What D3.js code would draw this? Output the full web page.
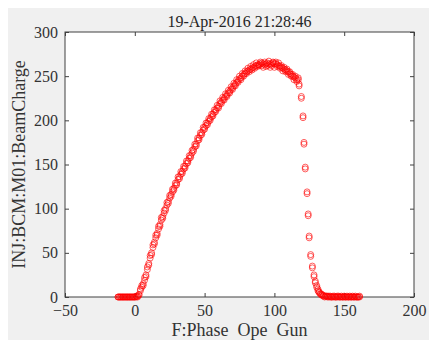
<!DOCTYPE html>
<html>
<head>
<meta charset="utf-8">
<script src="https://cdn.jsdelivr.net/npm/d3@7"></script>
<style>
  body { margin: 0; background: #fff; }
</style>
</head>
<body>
<div id="chart"></div>
<script>
// scan of gun phase vs measured beam charge (two readings per setting)
const title = '19-Apr-2016 21:28:46';
const xLabelText = 'F:Phase\u00a0\u00a0Ope\u00a0\u00a0Gun';
const yLabelText = 'INJ:BCM:M01:BeamCharge';
const xTicks = [-50, 0, 50, 100, 150, 200];
const yTicks = [0, 50, 100, 150, 200, 250, 300];

// phase settings (deg)
const phase = [
  -12, -11, -10, -9, -8, -7, -6, -5, -4, -3, -2, -1, 0, 1, 2,
  3, 4, 5, 6, 7, 8, 9, 10, 11, 12, 13, 14, 15, 16, 17, 18, 19, 20,
  21, 22, 23, 24, 25, 26, 27, 28, 29, 30, 31, 32, 33, 34, 35, 36, 37, 38, 39, 40,
  41, 42, 43, 44, 45, 46, 47, 48, 49, 50, 51, 52, 53, 54, 55, 56, 57, 58, 59, 60,
  61, 62, 63, 64, 65, 66, 67, 68, 69, 70, 71, 72, 73, 74, 75, 76, 77, 78, 79, 80,
  81, 82, 83, 84, 85, 86, 87, 88, 89, 90, 91, 92, 93, 94, 95, 96, 97, 98, 99, 100,
  101, 102, 103, 104, 105, 106, 107, 108, 109, 110, 111, 112, 113, 114, 115, 116,
  117.1, 117.7, 119.3, 120.5, 121.2, 122.1, 123.4, 124.2, 124.9, 126, 127.2, 128.4, 129.3, 130.3,
  131.2, 132, 133, 134, 135,
  136, 137, 138, 139, 140, 141, 142, 143, 144, 145, 146, 147, 148, 149, 150,
  151, 152, 153, 154, 155, 156, 157, 158, 159, 160, 161
];
// first reading
const charge = [
  0, 0, 0, 0, 0, 0, 0, 0, 0, 0, 0, 0, 0, 0, 1,
  3, 7, 11, 15, 19, 25, 31, 38, 44, 50, 56, 62, 67, 72, 77, 82, 87, 91,
  95, 100, 104, 108, 112, 116, 119, 123, 126, 129, 133, 136, 139, 142, 145, 148, 151, 154, 157, 160,
  163, 167, 170, 173, 177, 180, 183, 186, 189, 192, 194, 197, 199, 202, 204, 207, 209, 212, 214, 216,
  219, 221, 223, 225, 227, 229, 231, 233, 235, 237, 239, 241, 243, 245, 247, 248, 250, 252, 253, 255,
  256, 257, 258, 259, 260, 261, 262, 263, 263, 264, 265, 264, 263, 264, 265, 264, 263, 264, 265, 264,
  264, 263, 262, 261, 260, 259, 258, 257, 256, 255, 253, 252, 250, 249, 248, 246,
  246, 239, 225, 203, 173, 145, 117, 92, 67, 46, 33, 23, 16, 11,
  7, 5, 3, 2, 1,
  1, 1, 1, 0, 1, 0, 1, 0, 0, 1, 0, 0, 1, 0, 0,
  0, 1, 0, 0, 0, 1, 0, 0, 0, 0, 0
];
// second reading
const charge2 = [
  0, 0, 0, 0, 0, 0, 0, 0, 0, 0, 0, 0, 0, 1, 0,
  2, 9, 13, 13, 22, 23, 34, 36, 47, 48, 59, 60, 70, 70, 80, 80, 90, 89,
  98, 98, 107, 106, 115, 114, 122, 121, 129, 127, 136, 134, 142, 140, 148, 146, 154, 152, 160, 158,
  166, 165, 173, 171, 180, 178, 186, 184, 192, 190, 197, 195, 202, 200, 207, 205, 212, 210, 217, 214,
  222, 219, 226, 223, 230, 227, 234, 231, 238, 235, 242, 239, 246, 243, 250, 246, 253, 250, 256, 253,
  259, 255, 261, 257, 263, 259, 265, 261, 262, 266, 262, 260, 266, 261, 262, 267, 260, 262, 266, 260,
  266, 261, 265, 259, 262, 256, 260, 255, 258, 252, 255, 250, 252, 246, 250, 244,
  248, 241, 227, 205, 175, 147, 119, 94, 69, 48, 35, 25, 18, 13,
  9, 6, 4, 3, 2,
  0, 1, 0, 1, 0, 0, 0, 1, 0, 0, 1, 0, 0, 0, 1,
  0, 0, 0, 1, 0, 0, 0, 1, 0, 0, 1
];

const W = 429, H = 340;
const margin = {top: 32, left: 65, right: 15, bottom: 43};
const font = '"Liberation Serif", "Times New Roman", "DejaVu Serif", serif';

const svg = d3.select('#chart').append('svg')
  .attr('width', W).attr('height', H);

// figure background
svg.append('rect').attr('x', 8).attr('y', 8)
  .attr('width', W - 8).attr('height', H - 8).attr('fill', '#f0f0f0');

const xScale = d3.scaleLinear().domain([-50, 200]).range([margin.left, W - margin.right]);
const yScale = d3.scaleLinear().domain([0, 300]).range([H - margin.bottom, margin.top]);

// plot area
svg.append('rect')
  .attr('x', xScale(-50)).attr('y', yScale(300))
  .attr('width', xScale(200) - xScale(-50)).attr('height', yScale(0) - yScale(300))
  .attr('fill', '#fff');

const axisColor = '#404040';
function styleAxis(g) {
  g.attr('font-family', font);
  g.selectAll('.domain').remove();
  g.selectAll('line').attr('stroke', axisColor);
  g.selectAll('text').attr('font-family', font).attr('font-size', 16).attr('fill', '#333');
}

// bottom axis
svg.append('g')
  .attr('transform', `translate(0,${yScale(0)})`)
  .call(d3.axisBottom(xScale).tickValues(xTicks).tickFormat(d3.format('d')).tickSize(-4).tickPadding(8))
  .call(styleAxis);

// top axis ticks
svg.append('g')
  .attr('transform', `translate(0,${yScale(300)})`)
  .call(d3.axisTop(xScale).tickValues(xTicks).tickFormat('').tickSize(-4))
  .call(styleAxis);

// left axis
svg.append('g')
  .attr('transform', `translate(${xScale(-50)},0)`)
  .call(d3.axisLeft(yScale).tickValues(yTicks).tickSize(-4).tickPadding(7))
  .call(styleAxis);

// right axis ticks
svg.append('g')
  .attr('transform', `translate(${xScale(200)},0)`)
  .call(d3.axisRight(yScale).tickValues(yTicks).tickFormat('').tickSize(-4))
  .call(styleAxis);

// box
svg.append('rect')
  .attr('x', xScale(-50)).attr('y', yScale(300))
  .attr('width', xScale(200) - xScale(-50)).attr('height', yScale(0) - yScale(300))
  .attr('fill', 'none').attr('stroke', axisColor).attr('stroke-width', 1);

// markers, both readings
const points = phase.map((p, i) => ({p: p, q: charge[i]}))
  .concat(phase.map((p, i) => ({p: p, q: charge2[i]})));
svg.append('g').selectAll('circle')
  .data(points).enter()
  .append('circle')
  .attr('cx', d => xScale(d.p))
  .attr('cy', d => yScale(d.q))
  .attr('r', 3)
  .attr('fill', 'none')
  .attr('stroke', '#ff0000')
  .attr('stroke-opacity', 0.7)
  .attr('stroke-width', 0.9);

// title
svg.append('text')
  .attr('x', (xScale(-50) + xScale(200)) / 2)
  .attr('y', 27)
  .attr('text-anchor', 'middle')
  .attr('font-family', font)
  .attr('font-size', 16)
  .attr('fill', '#262626')
  .text(title);

// x label
svg.append('text')
  .attr('x', (xScale(-50) + xScale(200)) / 2)
  .attr('y', 336)
  .attr('text-anchor', 'middle')
  .attr('font-family', font)
  .attr('font-size', 18)
  .attr('fill', '#333')
  .text(xLabelText);

// y label
svg.append('text')
  .attr('transform', `translate(25,${(yScale(0) + yScale(300)) / 2}) rotate(-90)`)
  .attr('text-anchor', 'middle')
  .attr('font-family', font)
  .attr('font-size', 18)
  .attr('fill', '#333')
  .text(yLabelText);
</script>
</body>
</html>
